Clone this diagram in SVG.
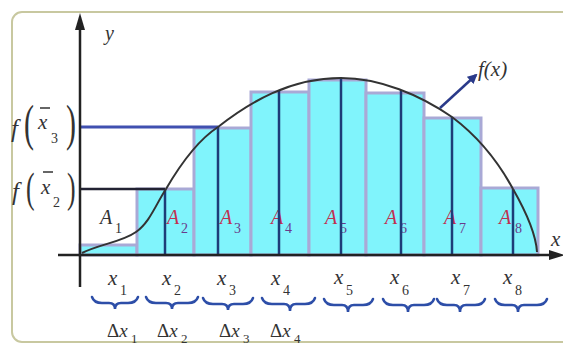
<svg xmlns="http://www.w3.org/2000/svg" width="563" height="347" viewBox="0 0 563 347" font-family="'Liberation Serif', 'DejaVu Serif', serif">
<defs>
<style>
.bar{fill:#80f4fc;stroke:#a9a9d6;stroke-width:3}
.dl{stroke:#1d3c78;stroke-width:2.5}
.ax{stroke:#222;stroke-width:2.5;fill:none}
.t{fill:#333}
.it{font-style:italic}
.A{font-style:italic;font-size:20px;fill:#c03050}
.As{font-size:14px;fill:#6a3a8a}
.br{fill:none;stroke:#2d4ea8;stroke-width:2.5;stroke-linecap:round}
</style>
<marker id="ah" markerWidth="10" markerHeight="10" refX="8" refY="5" orient="auto" markerUnits="userSpaceOnUse">
<path d="M0,0 L10,5 L0,10 Z" fill="#2a3a8a"/>
</marker>
</defs>
<rect x="0" y="0" width="563" height="347" fill="#ffffff"/>
<rect x="12" y="12" width="565" height="330" rx="10" fill="none" stroke="#c8c8a0" stroke-width="2"/>

<g id="bars">
<rect class="bar" x="80" y="245" width="57" height="10"/>
<rect class="bar" x="137" y="189" width="57" height="66"/>
<rect class="bar" x="194" y="128" width="57" height="127"/>
<rect class="bar" x="251" y="92" width="58" height="163"/>
<rect class="bar" x="309" y="80" width="57" height="175"/>
<rect class="bar" x="366" y="93" width="58" height="162"/>
<rect class="bar" x="424" y="118" width="57" height="137"/>
<rect class="bar" x="481" y="188" width="57" height="67"/>
</g>

<g id="area-labels">
<text class="t it" x="100" y="224" font-size="20">A</text><text class="t" x="115" y="233" font-size="14">1</text>
<text class="A" x="167" y="224">A</text><text class="As" x="181" y="233">2</text>
<text class="A" x="220" y="224">A</text><text class="As" x="234" y="233">3</text>
<text class="A" x="271" y="224">A</text><text class="As" x="285" y="233">4</text>
<text class="A" x="325" y="224">A</text><text class="As" x="340" y="233">5</text>
<text class="A" x="385" y="224">A</text><text class="As" x="400" y="233">6</text>
<text class="A" x="444" y="224">A</text><text class="As" x="459" y="233">7</text>
<text class="A" x="499" y="224">A</text><text class="As" x="515" y="233">8</text>
</g>

<g id="connectors">
<line class="dl" x1="165" y1="189" x2="165" y2="255"/>
<line class="dl" x1="218" y1="127" x2="218" y2="255"/>
<line class="dl" x1="279" y1="90" x2="279" y2="255"/>
<line class="dl" x1="341" y1="78" x2="341" y2="255"/>
<line class="dl" x1="401" y1="90" x2="401" y2="255"/>
<line class="dl" x1="452" y1="117" x2="452" y2="255"/>
<line class="dl" x1="513" y1="189" x2="513" y2="255"/>
<line x1="80" y1="127" x2="218" y2="127" stroke="#4050b0" stroke-width="3"/>
<line x1="80" y1="189" x2="165" y2="189" stroke="#223" stroke-width="2.5"/>
<path d="M82,253 C100,244 122,242 136,232 C150,222 156,204 166,189 C180,165 198,140 218,127 C250,102 290,78 341,78 C380,78 420,95 452,117 C480,138 500,165 513,189 C525,210 536,235 537,252" fill="none" stroke="#333" stroke-width="2"/>
<line x1="440" y1="108" x2="476" y2="75" stroke="#2a3a8a" stroke-width="2.5" marker-end="url(#ah)"/>
</g>

<g id="axes">
<line class="ax" x1="80" y1="287" x2="80" y2="26"/>
<path d="M80,13 L75,30 L85,30 Z" fill="#222"/>
<line class="ax" x1="58" y1="255" x2="552" y2="255"/>
<path d="M565,255 L549,250 L549,260 Z" fill="#222"/>
<text class="t it" x="105" y="40" font-size="20">y</text>
<text class="t it" x="551" y="246" font-size="21">x</text>
<text class="t it" x="478" y="76" font-size="21">f(x)</text>
</g>

<g id="y-labels">
<text class="t it" x="11" y="137" font-size="25">f</text>
<text class="t" transform="translate(24,140) scale(0.6,1)" font-size="50">(</text>
<text class="t it" x="38" y="129" font-size="21">x</text>
<line x1="40" y1="108" x2="50" y2="108" stroke="#333" stroke-width="1.5"/>
<text class="t" x="51" y="143" font-size="14">3</text>
<text class="t" transform="translate(66,140) scale(0.6,1)" font-size="50">)</text>

<text class="t it" x="12" y="200" font-size="25">f</text>
<text class="t" transform="translate(26,202) scale(0.6,1)" font-size="43">(</text>
<text class="t it" x="41" y="194" font-size="21">x</text>
<line x1="43" y1="172" x2="53" y2="172" stroke="#333" stroke-width="1.5"/>
<text class="t" x="53" y="207" font-size="14">2</text>
<text class="t" transform="translate(67,202) scale(0.6,1)" font-size="43">)</text>
</g>

<g id="x-labels">
<text class="t it" x="108" y="285" font-size="21">x</text><text class="t" x="120" y="295" font-size="14">1</text>
<text class="t it" x="162" y="285" font-size="21">x</text><text class="t" x="174" y="295" font-size="14">2</text>
<text class="t it" x="217" y="285" font-size="21">x</text><text class="t" x="229" y="295" font-size="14">3</text>
<text class="t it" x="271" y="285" font-size="21">x</text><text class="t" x="283" y="295" font-size="14">4</text>
<text class="t it" x="334" y="284" font-size="21">x</text><text class="t" x="346" y="295" font-size="14">5</text>
<text class="t it" x="390" y="284" font-size="21">x</text><text class="t" x="402" y="295" font-size="14">6</text>
<text class="t it" x="451" y="284" font-size="21">x</text><text class="t" x="463" y="295" font-size="14">7</text>
<text class="t it" x="503" y="284" font-size="21">x</text><text class="t" x="515" y="295" font-size="14">8</text>
</g>

<g id="braces">
<path class="br" d="M92,297 Q94,303 102,303 L109,303 Q115,303 115,309 Q115,303 121,303 L128,303 Q136,303 138,297"/>
<path class="br" d="M146,297 Q148,303 156,303 L166,303 Q172,303 172,309 Q172,303 178,303 L188,303 Q196,303 198,297"/>
<path class="br" d="M203,298 Q205,304 213,304 L222,304 Q228,304 228,310 Q228,304 234,304 L243,304 Q251,304 253,298"/>
<path class="br" d="M262,298 Q264,304 272,304 L284,304 Q290,304 290,311 Q290,304 296,304 L305,304 Q313,304 315,298"/>
<path class="br" d="M324,299 Q326,305 334,305 L342,305 Q348,305 348,312 Q348,305 354,305 L363,305 Q371,305 373,299"/>
<path class="br" d="M383,299 Q385,305 393,305 L402,305 Q408,305 408,312 Q408,305 414,305 L424,305 Q432,305 434,299"/>
<path class="br" d="M437,299 Q439,305 447,305 L454,305 Q460,305 460,312 Q460,305 466,305 L475,305 Q483,305 485,299"/>
<path class="br" d="M495,299 Q497,305 505,305 L512,305 Q518,305 518,312 Q518,305 524,305 L537,305 Q545,305 547,299"/>
</g>

<g id="dx-labels">
<text class="t" x="107" y="337" font-size="19">Δ<tspan font-style="italic">x</tspan></text><text class="t" x="131" y="343" font-size="13">1</text>
<text class="t" x="157" y="337" font-size="19">Δ<tspan font-style="italic">x</tspan></text><text class="t" x="181" y="343" font-size="13">2</text>
<text class="t" x="219" y="337" font-size="19">Δ<tspan font-style="italic">x</tspan></text><text class="t" x="243" y="343" font-size="13">3</text>
<text class="t" x="270" y="337" font-size="19">Δ<tspan font-style="italic">x</tspan></text><text class="t" x="294" y="343" font-size="13">4</text>
</g>
</svg>
